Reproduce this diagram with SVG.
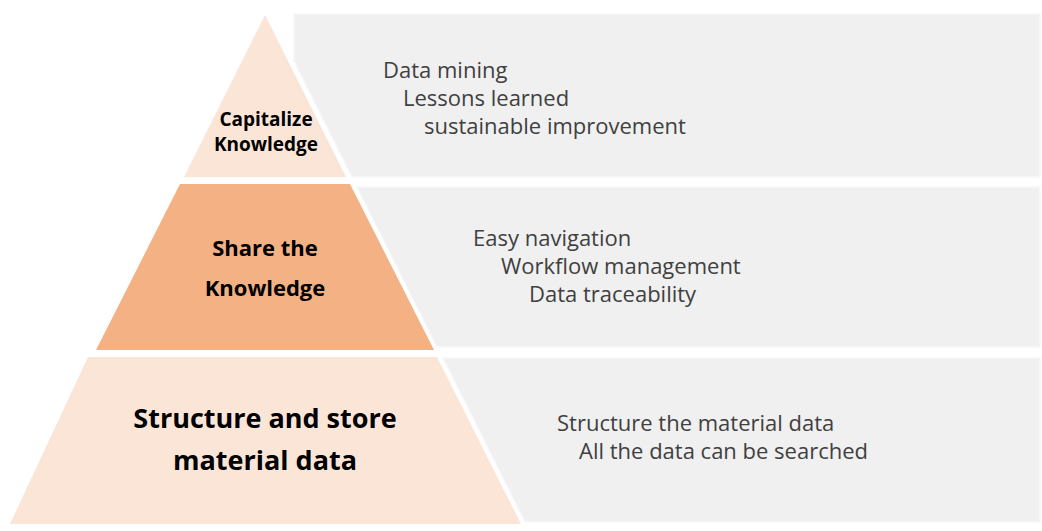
<svg xmlns="http://www.w3.org/2000/svg" width="1042" height="531" viewBox="0 0 1042 531">
<style>
.panel{fill:#f0f0f0;stroke:#f7f7f7;stroke-width:1.5}
.light{fill:#fbe5d6}
.mid{fill:#f4b183}
.t{font-family:"Open Sans","Noto Sans",sans-serif;font-size:22px;fill:#404040}
.b{font-family:"Open Sans","Noto Sans",sans-serif;font-weight:bold;fill:#000;text-anchor:middle}
</style>
<rect width="1042" height="531" fill="#fff"/>
<g id="panel-top">
<polygon class="panel" points="294,14 1040,14 1040,177 352,177 294,61"/>
<text class="t" x="383" y="78">Data mining</text>
<text class="t" x="403" y="106">Lessons learned</text>
<text class="t" x="424" y="134">sustainable improvement</text>
</g>
<g id="panel-mid">
<polygon class="panel" points="357,187 1040,187 1040,347 437,347"/>
<text class="t" x="473" y="246">Easy navigation</text>
<text class="t" x="501" y="274">Workflow management</text>
<text class="t" x="529" y="302">Data traceability</text>
</g>
<g id="panel-bottom">
<polygon class="panel" points="443,358 1040,358 1040,522 525,522"/>
<text class="t" x="557" y="431">Structure the material data</text>
<text class="t" x="579" y="459">All the data can be searched</text>
</g>
<g id="tier-top">
<polygon class="light" points="265,15 346,177 184,177"/>
<text class="b" font-size="19" x="266" y="126">Capitalize</text>
<text class="b" font-size="19" x="266" y="151">Knowledge</text>
</g>
<g id="tier-mid">
<polygon class="mid" points="180,184 350,184 434,350 96,350"/>
<text class="b" font-size="22" x="265" y="256">Share the</text>
<text class="b" font-size="22" x="265" y="296">Knowledge</text>
</g>
<g id="tier-bottom">
<polygon class="light" points="88,357 437,357 521,524 10,524"/>
<text class="b" font-size="27" x="265" y="428">Structure and store</text>
<text class="b" font-size="27" x="265" y="470">material data</text>
</g>
<g id="connectors"/>
</svg>
